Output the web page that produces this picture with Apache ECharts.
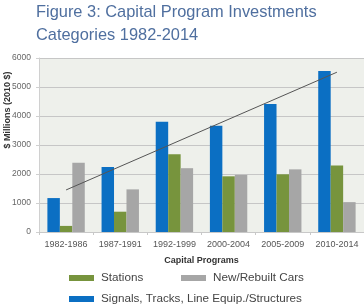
<!DOCTYPE html>
<html>
<head>
<meta charset="utf-8">
<script src="https://cdn.jsdelivr.net/npm/echarts@6/dist/echarts.min.js"></script>
<style>
html,body{margin:0;padding:0;background:#fff;}
#c{width:364px;height:308px;}
</style>
</head>
<body>
<div id="c"></div>
<script>
var categories = ['1982-1986','1987-1991','1992-1999','2000-2004','2005-2009','2010-2014'];
var signals = [1170, 2240, 3800, 3660, 4410, 5550];
var stations = [210, 700, 2680, 1920, 1990, 2290];
var cars = [2390, 1470, 2200, 1970, 2160, 1030];
var trend = [1450, null, null, null, null, 5510];
var yTicks = [0, 1000, 2000, 3000, 4000, 5000, 6000];

var FONT = 'Liberation Sans';
var legendText = {fontFamily: FONT, fontSize: 11.7, color: '#444', padding: [0,0,0,2]};
var chart = echarts.init(document.getElementById('c'), null, {renderer: 'canvas'});
chart.setOption({
  animation: false,
  backgroundColor: '#ffffff',
  title: {
    text: 'Figure 3: Capital Program Investments\nCategories 1982-2014',
    left: 36, top: 1, padding: 0,
    textStyle: {fontFamily: FONT, fontSize: 16.4, fontWeight: 'normal', color: '#4f6f9f', lineHeight: 23}
  },
  grid: {left: 39, right: -2, top: 58, bottom: 76, show: true, backgroundColor: '#eef0eb', borderWidth: 0},
  legend: [
    {data: ['Stations'], left: 69, top: 272, padding: 0, itemWidth: 25, itemHeight: 6, icon: 'rect', textStyle: legendText},
    {data: ['New/Rebuilt Cars'], left: 181, top: 272, padding: 0, itemWidth: 25, itemHeight: 6, icon: 'rect', textStyle: legendText},
    {data: ['Signals, Tracks, Line Equip./Structures'], left: 69, top: 293, padding: 0, itemWidth: 25, itemHeight: 6, icon: 'rect', textStyle: legendText}
  ],
  xAxis: {
    type: 'category', data: categories,
    name: 'Capital Programs', nameLocation: 'middle', nameGap: 24,
    nameTextStyle: {fontFamily: FONT, fontSize: 9, fontWeight: 'bold', color: '#333'},
    axisLine: {lineStyle: {color: '#c8c8c8'}},
    axisTick: {show: true, length: 3, lineStyle: {color: '#c8c8c8'}},
    axisLabel: {interval: 0, fontFamily: FONT, fontSize: 9, color: '#555', margin: 8}
  },
  yAxis: {
    type: 'value', min: 0, max: 6000, interval: 1000,
    axisLine: {show: true, lineStyle: {color: '#d0d0d0'}},
    axisTick: {show: true, length: 3, lineStyle: {color: '#d0d0d0'}},
    axisLabel: {fontFamily: FONT, fontSize: 8.5, color: '#666', margin: 8,
      formatter: function(v){ return yTicks.indexOf(v) >= 0 ? String(v) : ''; }},
    splitLine: {lineStyle: {color: '#c6c6c6'}}
  },
  graphic: [{
    type: 'text', x: 8, y: 110, rotation: Math.PI/2,
    style: {text: '$ Millions (2010 $)', fontFamily: FONT, fontSize: 9, fontWeight: 'bold', fill: '#333',
      align: 'center', verticalAlign: 'middle'}
  }],
  series: [
    {name: 'Signals, Tracks, Line Equip./Structures', type: 'bar', data: signals,
     itemStyle: {color: '#0b6fc3'}, barGap: '0%', barCategoryGap: '31%'},
    {name: 'Stations', type: 'bar', data: stations, itemStyle: {color: '#77943d'}},
    {name: 'New/Rebuilt Cars', type: 'bar', data: cars, itemStyle: {color: '#a6a6a6'}},
    {name: 'trend', type: 'line', data: trend, connectNulls: true, showSymbol: false, symbol: 'none',
     lineStyle: {color: '#555', width: 1}, z: 5}
  ]
});
</script>
</body>
</html>
